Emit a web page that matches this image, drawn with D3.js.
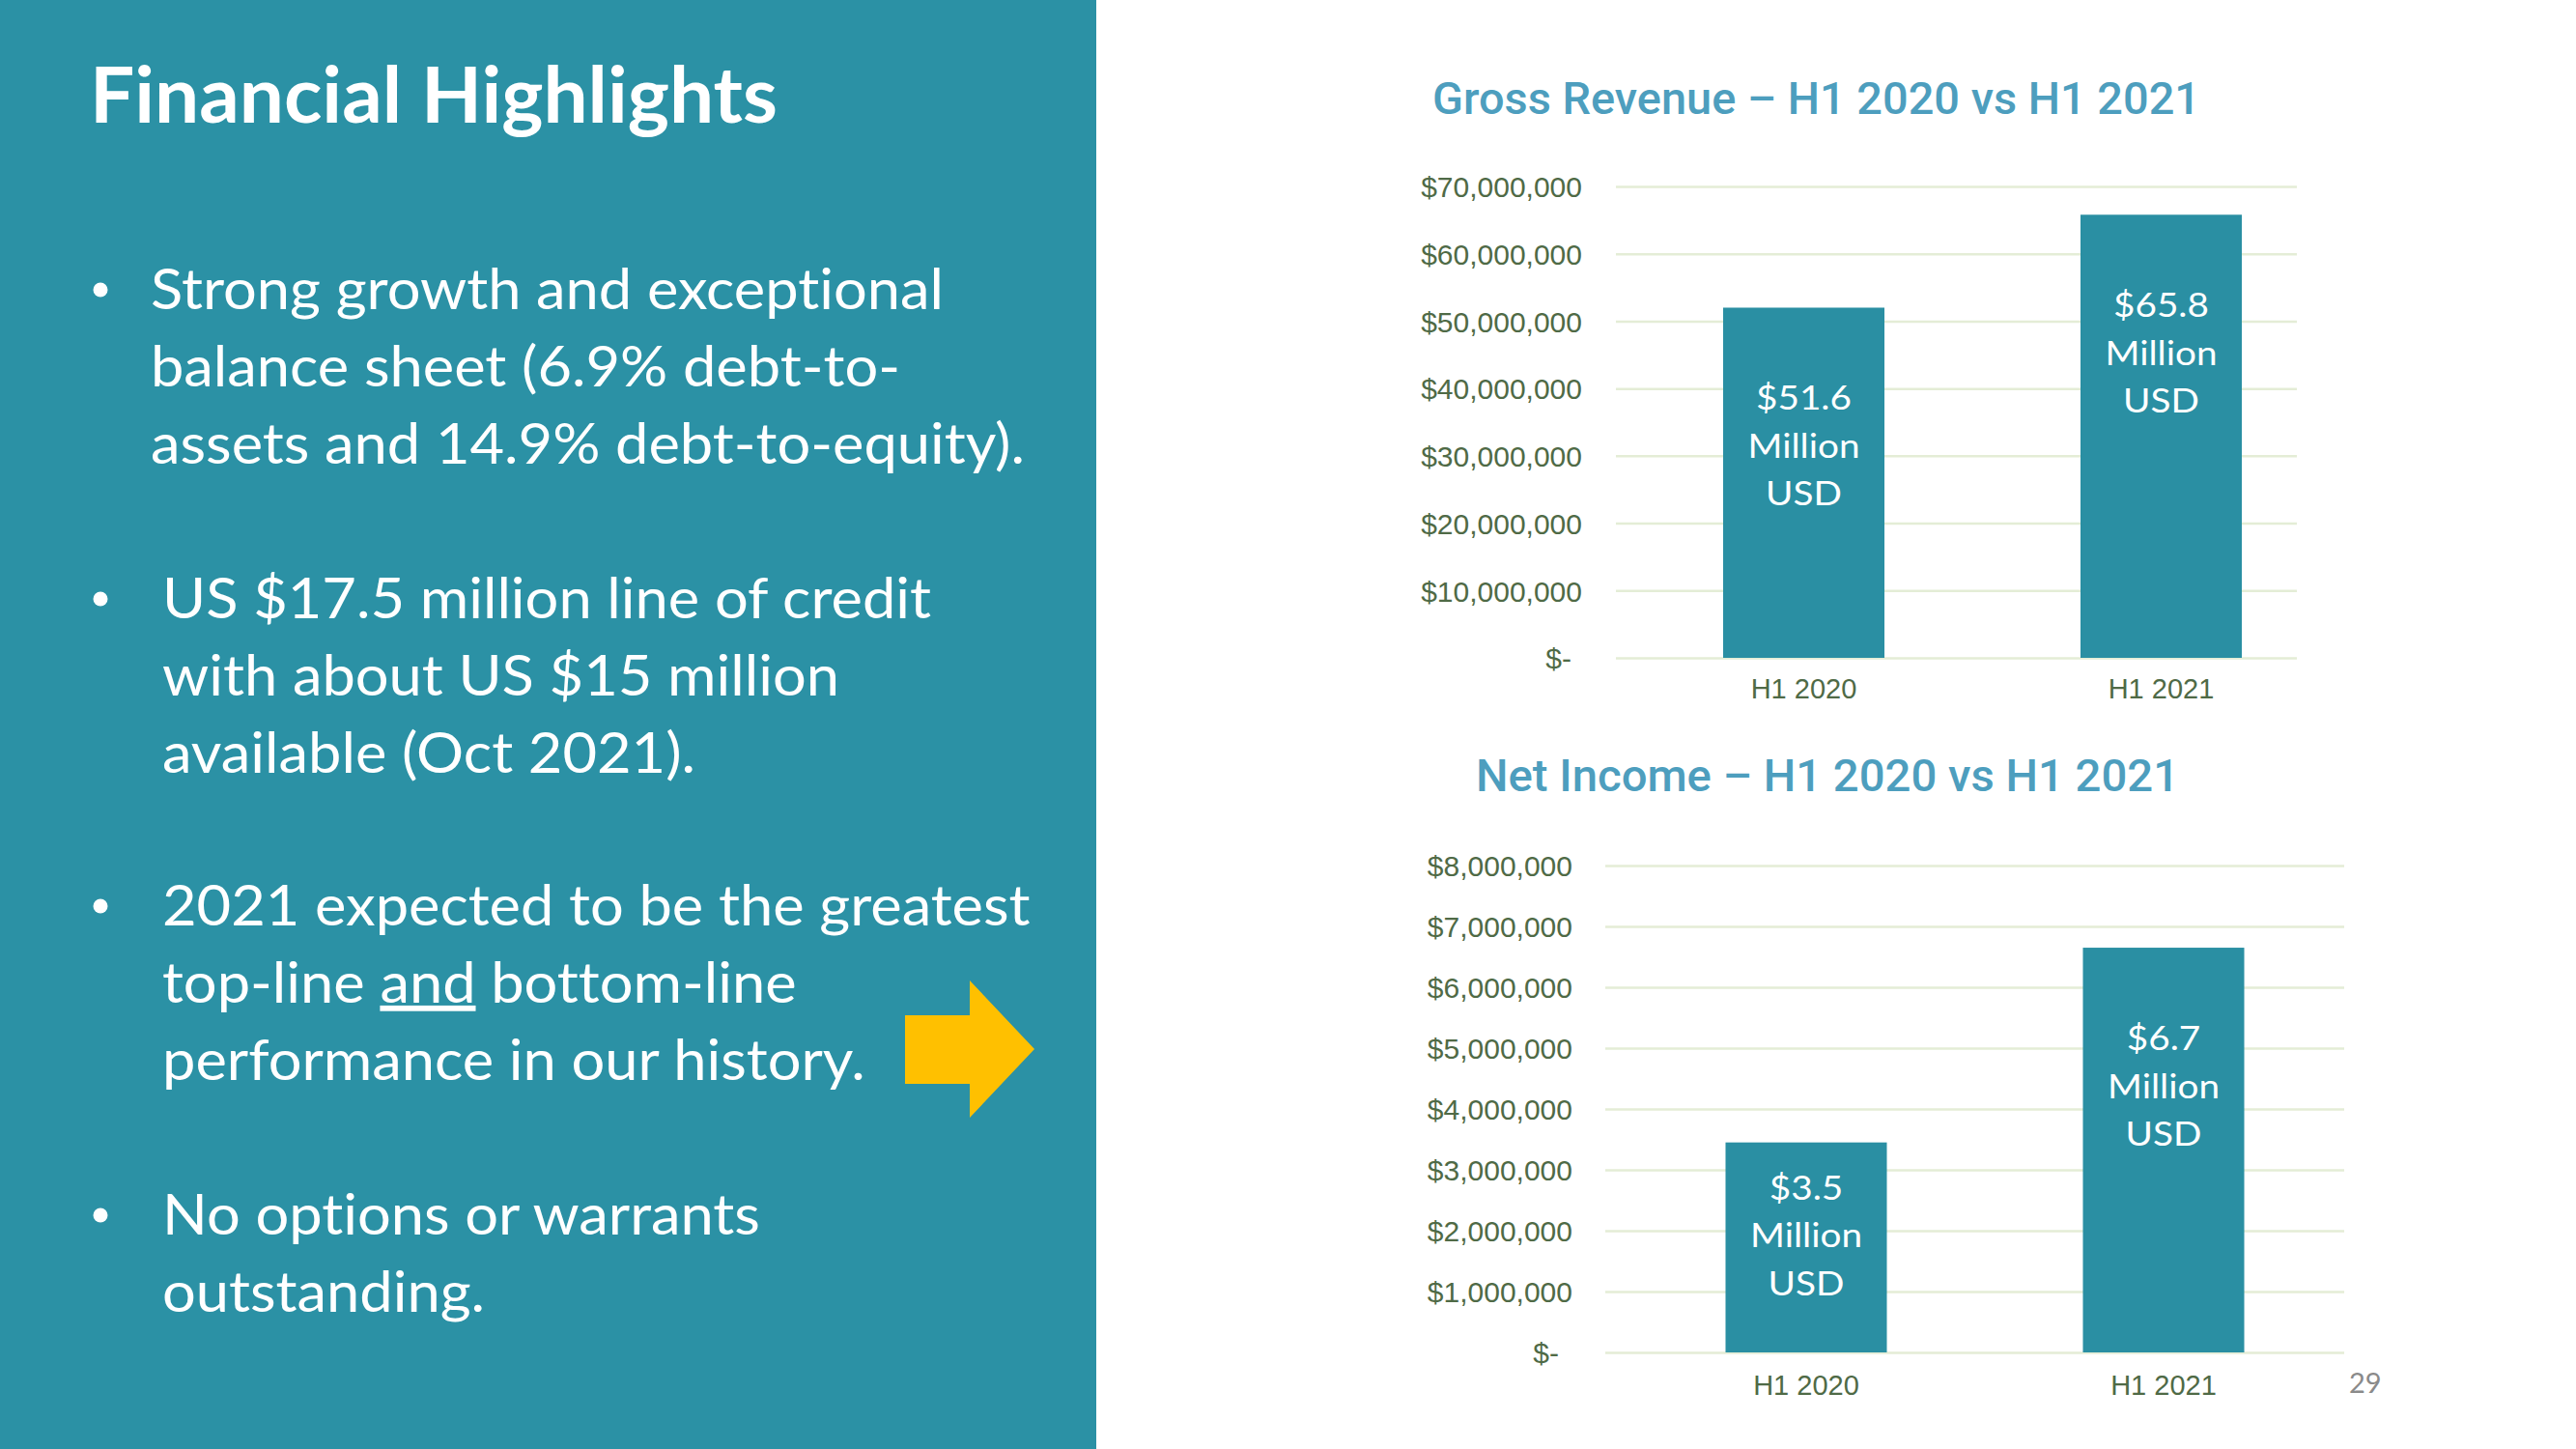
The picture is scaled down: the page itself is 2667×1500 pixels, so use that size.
<!DOCTYPE html>
<html>
<head>
<meta charset="utf-8">
<script src="https://cdn.jsdelivr.net/npm/d3@7"></script>
<style>
  html, body { margin: 0; padding: 0; background: #ffffff; }
  svg { display: block; }
  text { font-variant-ligatures: none; font-feature-settings: "liga" 0, "clig" 0; }
</style>
</head>
<body>
<svg id="chart" width="2667" height="1500"></svg>
<script>
// ---------------- DATA ----------------
const categories = ["H1 2020", "H1 2021"];
const revenueValues = [52000000, 65800000];
const revenueLabels = ["$51.6", "$65.8"];
const incomeValues = [3450000, 6650000];
const incomeLabels = ["$3.5", "$6.7"];
const labelUnitLines = ["Million", "USD"];
const revenueTicks = [0, 10000000, 20000000, 30000000, 40000000, 50000000, 60000000, 70000000];
const incomeTicks = [0, 1000000, 2000000, 3000000, 4000000, 5000000, 6000000, 7000000, 8000000];
const revenueTitle = "Gross Revenue \u2013 H1 2020 vs H1 2021";
const incomeTitle = "Net Income \u2013 H1 2020 vs H1 2021";
const slideTitle = "Financial Highlights";
const bullets = [
  ["Strong growth and exceptional", "balance sheet (6.9% debt-to-", "assets and 14.9% debt-to-equity)."],
  ["US $17.5 million line of credit", "with about US $15 million", "available (Oct 2021)."],
  ["2021 expected to be the greatest", "top-line |and| bottom-line", "performance in our history."],
  ["No options or warrants", "outstanding."]
];
const pageNumber = "29";

// ---------------- STYLE ----------------
const TEAL = "#2B91A5";
const BAR = "#2A8FA3";
const TITLE_BLUE = "#4D9EBE";
const TICK_GREEN = "#4F6A46";
const GRID = "#E4EDD6";
const ARROW = "#FFC000";

const svg = d3.select("#chart");

// left panel
svg.append("rect").attr("x", 0).attr("y", 0).attr("width", 1135).attr("height", 1500).attr("fill", TEAL);

// slide title
svg.append("text")
  .attr("x", 93).attr("y", 127)
  .attr("font-family", "Lato, 'Open Sans', sans-serif")
  .attr("font-weight", 700)
  .attr("font-size", 80)
  .attr("fill", "#ffffff")
  .attr("textLength", 712)
  .attr("lengthAdjust", "spacingAndGlyphs")
  .text(slideTitle);

// bullets
const bulletLayout = [
  { x: 156, ys: [320, 400, 480], targets: [823, 779, 904] },
  { x: 168, ys: [640, 720, 800], targets: [793, 695, 551] },
  { x: 168, ys: [958, 1038, 1118], targets: [891, 661, 734] },
  { x: 168, ys: [1278, 1358], targets: [622, 335] }
];
const bulletFont = "Lato, 'Open Sans', sans-serif";
const bulletSize = 58;
const lineNodes = [];
let sumT = 0, sumW = 0;
bullets.forEach((lines, bi) => {
  const lay = bulletLayout[bi];
  svg.append("circle")
    .attr("cx", 104).attr("cy", lay.ys[0] - 20)
    .attr("r", 7.5)
    .attr("fill", "#ffffff");
  lines.forEach((ln, li) => {
    const t = svg.append("text")
      .attr("x", 0).attr("y", 0)
      .attr("font-family", bulletFont)
      .attr("font-size", bulletSize)
      .attr("fill", "#ffffff");
    const parts = ln.split("|");
    parts.forEach((p, pi) => {
      if (!p.length) return;
      const ts = t.append("tspan").text(p);
      if (pi === 1) ts.attr("text-decoration", "underline");
    });
    const w = t.node().getComputedTextLength();
    sumT += lay.targets[li];
    sumW += w;
    lineNodes.push({ sel: t, x: lay.x, y: lay.ys[li] });
  });
});
const bulletSx = sumW > 0 ? sumT / sumW : 1;
lineNodes.forEach(n => n.sel.attr("transform", `translate(${n.x},${n.y}) scale(${bulletSx},1)`));

// arrow
svg.append("path")
  .attr("d", "M937,1051 L1004,1051 L1004,1015 L1071,1086 L1004,1157 L1004,1122 L937,1122 Z")
  .attr("fill", ARROW);

// ---------------- CHARTS ----------------
const moneyFmt = d3.format(",");
function drawChart(cfg) {
  const g = svg.append("g");
  // title
  g.append("text")
    .attr("x", cfg.titleX).attr("y", cfg.titleY)
    .attr("font-family", "Roboto, 'Liberation Sans', sans-serif")
    .attr("font-weight", 500)
    .attr("font-size", 46)
    .attr("fill", TITLE_BLUE)
    .attr("textLength", cfg.titleW)
    .attr("lengthAdjust", "spacingAndGlyphs")
    .text(cfg.title);

  const y = d3.scaleLinear().domain([0, d3.max(cfg.ticks)]).range(cfg.yRange);
  const x = d3.scaleBand().domain(categories).range(cfg.xRange).paddingInner(0.5486).paddingOuter(0.2743);

  // y axis with gridlines
  const ax = g.append("g")
    .attr("transform", `translate(${cfg.gridX[0]},0)`)
    .call(d3.axisLeft(y)
      .tickValues(cfg.ticks)
      .tickFormat(d => d === 0 ? "$-" : "$" + moneyFmt(d))
      .tickSize(-(cfg.gridX[1] - cfg.gridX[0]))
      .tickPadding(cfg.tickPad));
  ax.select(".domain").remove();
  ax.selectAll(".tick line").attr("stroke", GRID).attr("stroke-width", 2.5);
  ax.selectAll(".tick text")
    .attr("font-family", "'Liberation Sans', Arial, sans-serif")
    .attr("font-size", 30)
    .attr("fill", TICK_GREEN)
    .attr("dy", "0.36em");
  ax.selectAll(".tick text").filter(d => d === 0).attr("dx", -cfg.zeroShift);

  // bars
  g.selectAll("rect.bar").data(cfg.values).enter().append("rect")
    .attr("class", "bar")
    .attr("x", (d, i) => x(categories[i]))
    .attr("width", x.bandwidth())
    .attr("y", d => y(d))
    .attr("height", d => y(0) - y(d))
    .attr("fill", BAR);

  // bar labels
  cfg.values.forEach((v, i) => {
    const top = y(v), bottom = y(0);
    const lines = [cfg.labels[i]].concat(labelUnitLines);
    const lh = 49.5;
    const first = (bottom - top) > 300 ? top + 106 : (top + bottom) / 2 - lh;
    const cx = x(categories[i]) + x.bandwidth() / 2;
    lines.forEach((ln, li) => {
      const t = g.append("text")
        .attr("x", 0).attr("y", 0)
        .attr("text-anchor", "middle")
        .attr("font-family", "Lato, 'Open Sans', sans-serif")
        .attr("font-size", 35)
        .attr("fill", "#ffffff")
        .text(ln);
      t.attr("transform", `translate(${cx},${first + li * lh}) scale(${cfg.labelSx},1)`);
    });
  });

  // category axis
  const bx = g.append("g")
    .attr("transform", `translate(0,${cfg.catY})`)
    .call(d3.axisBottom(x).tickSize(0).tickPadding(0));
  bx.select(".domain").remove();
  bx.selectAll(".tick text")
    .attr("y", 0).attr("dy", 0)
    .attr("font-family", "'Liberation Sans', Arial, sans-serif")
    .attr("font-size", 29)
    .attr("fill", TICK_GREEN);
}

// compute horizontal scale for bar labels ("Million" ~116px wide)
const probe = svg.append("text").attr("font-family", "Lato, 'Open Sans', sans-serif").attr("font-size", 35).text("Million");
const probeW = probe.node().getComputedTextLength();
probe.remove();
const labelSx = probeW > 0 ? 116 / probeW : 1;

drawChart({
  title: revenueTitle, titleX: 1483, titleY: 118, titleW: 795,
  values: revenueValues, labels: revenueLabels, ticks: revenueTicks,
  yRange: [681, 193], xRange: [1682.5, 2422.5], gridX: [1673, 2378],
  tickPad: 35, zeroShift: 11, catY: 723, labelSx: labelSx
});
drawChart({
  title: incomeTitle, titleX: 1528, titleY: 819, titleW: 728,
  values: incomeValues, labels: incomeLabels, ticks: incomeTicks,
  yRange: [1400, 896], xRange: [1685, 2425], gridX: [1662, 2427],
  tickPad: 34, zeroShift: 14, catY: 1444, labelSx: labelSx
});

// page number
svg.append("text")
  .attr("x", 2432).attr("y", 1442)
  .attr("font-family", "Lato, 'Open Sans', sans-serif")
  .attr("font-size", 29)
  .attr("fill", "#8A8A8A")
  .text(pageNumber);
</script>
</body>
</html>
